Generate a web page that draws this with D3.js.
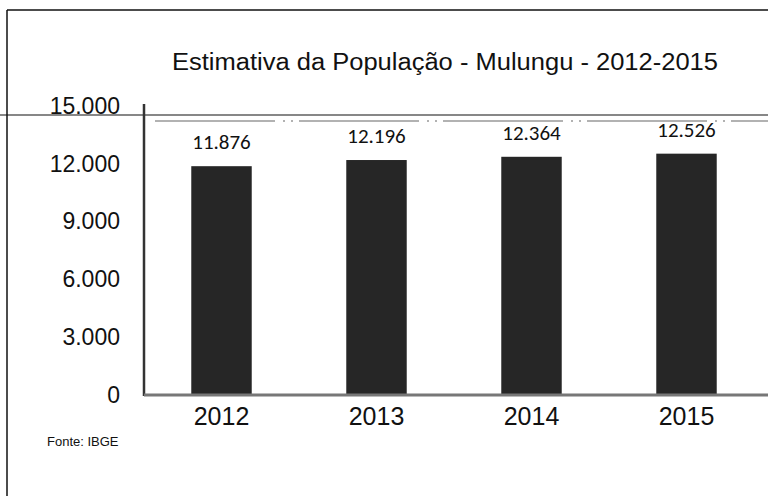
<!DOCTYPE html>
<html><head><meta charset="utf-8">
<script src="https://cdn.jsdelivr.net/npm/d3@7"></script>
<style>html,body{margin:0;padding:0;background:#fff;}svg{display:block;}</style>
</head><body>
<svg id="c" width="768" height="496"></svg>
<script>
const years = ["2012","2013","2014","2015"];
const population = [11876, 12196, 12364, 12526];
const yTicks = [0, 3000, 6000, 9000, 12000, 15000];
const titleText = "Estimativa da População  - Mulungu  -  2012-2015";
const sourceText = "Fonte: IBGE";

const svg = d3.select("#c");
const fmt = v => d3.format(",")(v).replace(/,/g, ".");

const x = d3.scaleBand().domain(years).range([144, 764]).paddingInner(0.61).paddingOuter(0.305);
const y = d3.scaleLinear().domain([0, 15000]).range([395, 106]);

// frame lines
svg.append("line").attr("x1",7).attr("x2",768).attr("y1",10).attr("y2",10).attr("stroke","#111").attr("stroke-width",1.5);
svg.append("line").attr("x1",7).attr("x2",7).attr("y1",10).attr("y2",496).attr("stroke","#111").attr("stroke-width",1.5);
svg.append("line").attr("x1",0).attr("x2",768).attr("y1",115).attr("y2",115).attr("stroke","#111").attr("stroke-width",1.2);
// gridline near top
svg.append("line").attr("x1",155).attr("x2",768).attr("y1",121).attr("y2",121).attr("stroke","#666").attr("stroke-width",1.2).attr("stroke-dasharray","120,8,2,6,2,6");

// title
svg.append("text").attr("x",172).attr("y",70)
  .attr("font-family","'Liberation Sans',Arial,sans-serif").attr("font-size",23).attr("fill","#111")
  .attr("textLength",546).attr("lengthAdjust","spacingAndGlyphs")
  .text(titleText);

// y axis labels
const yAxis = d3.axisLeft(y).tickValues(yTicks).tickFormat(fmt).tickSize(0).tickPadding(0);
const ga = svg.append("g").attr("transform","translate(120,0)").call(yAxis);
ga.select(".domain").remove();
ga.selectAll("text").attr("font-family","'Liberation Sans',Arial,sans-serif").attr("font-size",23).attr("fill","#111");

// left axis line
svg.append("line").attr("x1",144).attr("x2",144).attr("y1",104).attr("y2",396).attr("stroke","#333").attr("stroke-width",2.5);

// bars
svg.append("g").selectAll("rect").data(years).join("rect")
  .attr("x", d => x(d)).attr("width", x.bandwidth())
  .attr("y", (d,i) => y(population[i])).attr("height", (d,i) => y(0) - y(population[i]))
  .attr("fill","#262626");

// baseline
svg.append("line").attr("x1",144).attr("x2",768).attr("y1",395).attr("y2",395).attr("stroke","#777").attr("stroke-width",3);

// value labels
svg.append("g").selectAll("text").data(years).join("text")
  .attr("x", d => x(d) + x.bandwidth()/2).attr("y", (d,i) => y(population[i]) - 17)
  .attr("text-anchor","middle").attr("font-family","Carlito,'DejaVu Sans',sans-serif").attr("font-size",21).attr("fill","#111")
  .text((d,i) => fmt(population[i]));

// x axis labels
const xAxis = d3.axisBottom(x).tickSize(0).tickPadding(0);
const gx = svg.append("g").attr("transform","translate(0,407)").call(xAxis);
gx.select(".domain").remove();
gx.selectAll("text").attr("font-family","'Liberation Sans',Arial,sans-serif").attr("font-size",25).attr("fill","#111");

// source
svg.append("text").attr("x",47).attr("y",446).attr("font-family","'Liberation Sans',Arial,sans-serif").attr("font-size",13).attr("fill","#111").text(sourceText);
</script>
</body></html>
